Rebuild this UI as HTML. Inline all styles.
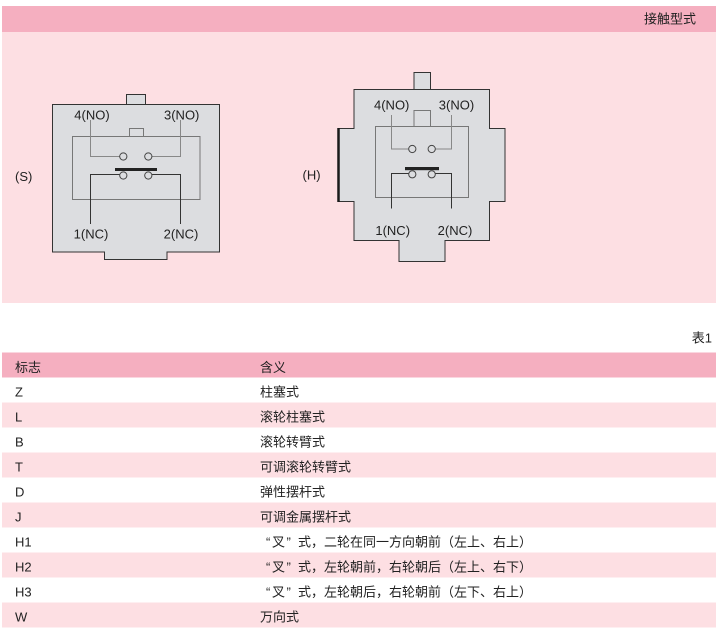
<!DOCTYPE html>
<html><head><meta charset="utf-8"><style>
html,body{margin:0;padding:0;background:#fff;}
svg{display:block;}
text{font-family:"Liberation Sans","Noto Sans CJK SC",sans-serif;font-size:13px;fill:#222;}
.cjk{font-family:"Noto Sans CJK SC",sans-serif;}
</style></head><body>
<svg width="718" height="635" viewBox="0 0 718 635" xmlns="http://www.w3.org/2000/svg">
<!-- top section -->
<rect x="2" y="6" width="714" height="26" fill="#f5afc0"/>
<rect x="2" y="32" width="714" height="271" fill="#fddfe3"/>
<text x="696" y="23.5" text-anchor="end">接触型式</text>

<!-- S diagram -->
<text x="15" y="181">(S)</text>
<rect x="126.5" y="94.5" width="19" height="10" fill="#dcdde0" stroke="#333" stroke-width="1"/>
<polygon points="52.5,104.5 219.5,104.5 219.5,252 167,252 167,259.5 104.5,259.5 104.5,252 52.5,252" fill="#dcdde0" stroke="#333" stroke-width="1"/>
<rect x="72.5" y="136.5" width="127.5" height="63" fill="none" stroke="#777" stroke-width="1"/>
<rect x="129.5" y="128.5" width="14" height="8" fill="none" stroke="#777" stroke-width="1"/>
<polyline points="90.5,120 90.5,156.5 119.5,156.5" fill="none" stroke="#888" stroke-width="1"/>
<polyline points="152,156.5 180.5,156.5 180.5,120" fill="none" stroke="#888" stroke-width="1"/>
<polyline points="90.5,224 90.5,174.5 119.5,174.5" fill="none" stroke="#333" stroke-width="1"/>
<polyline points="152,174.5 180.5,174.5 180.5,224" fill="none" stroke="#333" stroke-width="1"/>
<circle cx="123.3" cy="156.5" r="3.6" fill="#dcdde0" stroke="#444" stroke-width="1"/>
<circle cx="148.3" cy="156.5" r="3.6" fill="#dcdde0" stroke="#444" stroke-width="1"/>
<circle cx="123.3" cy="175.5" r="3.6" fill="#dcdde0" stroke="#444" stroke-width="1"/>
<circle cx="148.3" cy="175.5" r="3.6" fill="#dcdde0" stroke="#444" stroke-width="1"/>
<rect x="115" y="168" width="42" height="3" fill="#222"/>
<text x="92" y="119.5" text-anchor="middle">4(NO)</text>
<text x="181.7" y="119.5" text-anchor="middle">3(NO)</text>
<text x="91" y="238.5" text-anchor="middle">1(NC)</text>
<text x="181" y="238.5" text-anchor="middle">2(NC)</text>

<!-- H diagram -->
<text x="302.5" y="179.5">(H)</text>
<rect x="414" y="72.5" width="16.5" height="17" fill="#dcdde0" stroke="#333" stroke-width="1"/>
<polygon points="354,89.5 489.5,89.5 489.5,128.5 505,128.5 505,201.5 489.5,201.5 489.5,240.5 445,240.5 445,261.5 399,261.5 399,240.5 354,240.5 354,201.5 338.5,201.5 338.5,128.5 354,128.5" fill="#dcdde0" stroke="#333" stroke-width="1"/>
<line x1="338.5" y1="128" x2="338.5" y2="202" stroke="#1a1a1a" stroke-width="2.5"/>
<rect x="375.5" y="126.5" width="93" height="71" fill="none" stroke="#777" stroke-width="1"/>
<rect x="414" y="110.5" width="16.5" height="16" fill="none" stroke="#777" stroke-width="1"/>
<polyline points="391.5,115 391.5,149 408.5,149" fill="none" stroke="#888" stroke-width="1"/>
<polyline points="435.5,149 451.5,149 451.5,115" fill="none" stroke="#888" stroke-width="1"/>
<polyline points="391.5,208.5 391.5,173.5 408.5,173.5" fill="none" stroke="#333" stroke-width="1"/>
<polyline points="435.5,173.5 451.5,173.5 451.5,208.5" fill="none" stroke="#333" stroke-width="1"/>
<circle cx="412.3" cy="149" r="3.6" fill="#dcdde0" stroke="#444" stroke-width="1"/>
<circle cx="431.7" cy="149" r="3.6" fill="#dcdde0" stroke="#444" stroke-width="1"/>
<circle cx="412.3" cy="174.3" r="3.6" fill="#dcdde0" stroke="#444" stroke-width="1"/>
<circle cx="431.7" cy="174.3" r="3.6" fill="#dcdde0" stroke="#444" stroke-width="1"/>
<rect x="405" y="167" width="34" height="3.2" fill="#222"/>
<text x="391.7" y="109.5" text-anchor="middle">4(NO)</text>
<text x="456.5" y="109.5" text-anchor="middle">3(NO)</text>
<text x="392.7" y="235" text-anchor="middle">1(NC)</text>
<text x="455" y="235" text-anchor="middle">2(NC)</text>

<!-- table -->
<text x="712" y="342.5" text-anchor="end">表1</text>
<rect x="2" y="352.5" width="714" height="25" fill="#f5afc0"/>
<rect x="2" y="402.5" width="714" height="25" fill="#fddfe3"/>
<rect x="2" y="452.5" width="714" height="25" fill="#fddfe3"/>
<rect x="2" y="502.5" width="714" height="25" fill="#fddfe3"/>
<rect x="2" y="552.5" width="714" height="25" fill="#fddfe3"/>
<rect x="2" y="602.5" width="714" height="25" fill="#fddfe3"/>

<text x="15" y="372">标志</text><text x="260" y="372">含义</text>
<text x="15" y="396.5">Z</text><text x="260" y="396.5">柱塞式</text>
<text x="15" y="421.5">L</text><text x="260" y="421.5">滚轮柱塞式</text>
<text x="15" y="446.5">B</text><text x="260" y="446.5">滚轮转臂式</text>
<text x="15" y="471.5">T</text><text x="260" y="471.5">可调滚轮转臂式</text>
<text x="15" y="496.5">D</text><text x="260" y="496.5">弹性摆杆式</text>
<text x="15" y="521.5">J</text><text x="260" y="521.5">可调金属摆杆式</text>
<text x="15" y="546.5">H1</text>
<text x="15" y="571.5">H2</text>
<text x="15" y="596.5">H3</text>
<text x="15" y="621.5">W</text><text x="260" y="621.5">万向式</text>

<text y="546.5"><tspan x="266" style="font-family:'Liberation Sans',sans-serif">“</tspan><tspan class="cjk" x="272">叉</tspan><tspan x="286.5" style="font-family:'Liberation Sans',sans-serif">”</tspan><tspan class="cjk" x="298 311 324 337 350 363 376 389 402 415 428 441 454 467 480 493 506 519">式，二轮在同一方向朝前（左上、右上）</tspan></text>
<text y="571.5"><tspan x="266" style="font-family:'Liberation Sans',sans-serif">“</tspan><tspan class="cjk" x="272">叉</tspan><tspan x="286.5" style="font-family:'Liberation Sans',sans-serif">”</tspan><tspan class="cjk" x="298 311 324 337 350 363 376 389 402 415 428 441 454 467 480 493 506 519">式，左轮朝前，右轮朝后（左上、右下）</tspan></text>
<text y="596.5"><tspan x="266" style="font-family:'Liberation Sans',sans-serif">“</tspan><tspan class="cjk" x="272">叉</tspan><tspan x="286.5" style="font-family:'Liberation Sans',sans-serif">”</tspan><tspan class="cjk" x="298 311 324 337 350 363 376 389 402 415 428 441 454 467 480 493 506 519">式，左轮朝后，右轮朝前（左下、右上）</tspan></text>
</svg>
</body></html>
